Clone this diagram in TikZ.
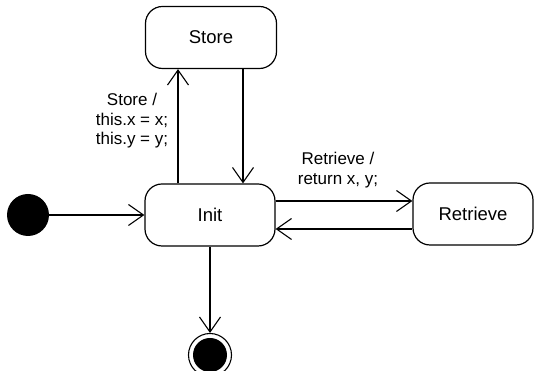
\documentclass[tikz,border=0pt]{standalone}
\usepackage{fontspec}
\setmainfont{Liberation Sans}
\usetikzlibrary{arrows.meta,calc}

\tikzset{
  state/.style={draw, line width=1.2pt, rounded corners=17pt, minimum width=#1,
                minimum height=62pt, inner sep=0pt, font=\fontsize{18.5}{20}\selectfont},
  state/.default=130pt,
  trans/.style={draw, line width=1.1pt,
                -{Straight Barb[length=15pt,width=21pt,line width=1.1pt]}},
  lbl/.style={align=center, font=\fontsize{17}{19.5}\selectfont, inner sep=0pt},
}

\begin{document}
\begin{tikzpicture}[x=1pt,y=1pt]
  \useasboundingbox (0,0) rectangle (542,371);

  % states
  \node[state=131pt] (store) at (211,333.5) {Store};
  \node[state] (init) at (210,156) {Init};
  \node[state=120pt] (retrieve) at (473,157) {Retrieve};

  % initial and final pseudo-states
  \node[circle, fill=black, minimum size=42pt, inner sep=0pt] (start) at (28,156) {};
  \node[circle, draw, line width=1.1pt, minimum size=43pt, inner sep=0pt] (final) at (210,16) {};
  \node[circle, fill=black, minimum size=34pt, inner sep=0pt] (finalcore) at (final.center) {};

  % attachment positions of the transitions
  \coordinate (upx) at (178,0);
  \coordinate (downx) at (243,0);
  \coordinate (outy) at (0,170);
  \coordinate (backy) at (0,142);

  % transitions
  \draw[trans] (start) -- (init.west);
  \draw[trans] (init.north -| upx) -- (store.south -| upx);
  \draw[trans] (store.south -| downx) -- (init.north -| downx);
  \draw[trans] (init.east |- outy) -- (retrieve.west |- outy);
  \draw[trans] (retrieve.west |- backy) -- (init.east |- backy);
  \draw[trans] (init.south) -- (final.north);

  % transition labels
  \node[lbl] (storelbl) at (132,250) {Store /\\this.x = x;\\this.y = y;};
  \node[lbl] (retrievelbl) at (338,201) {Retrieve /\\return x, y;};
\end{tikzpicture}
\end{document}
